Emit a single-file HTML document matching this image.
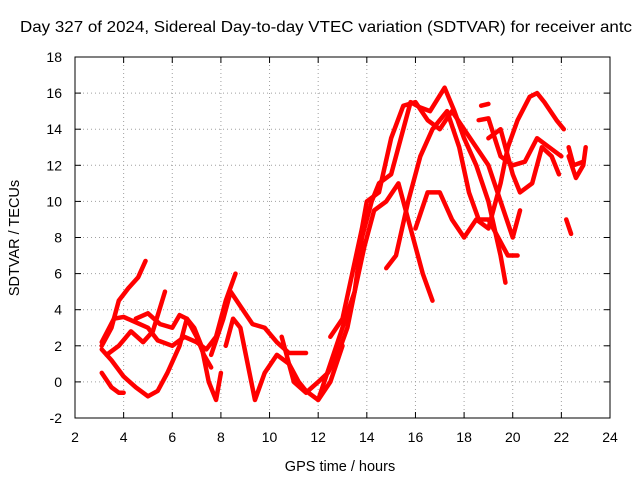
<!DOCTYPE html>
<html><head><meta charset="utf-8"><style>
body{margin:0;background:#fff}
svg{display:block;font-family:"Liberation Sans",sans-serif}
</style></head><body>
<svg width="640" height="480" viewBox="0 0 640 480">
<rect width="640" height="480" fill="#fff"/>
<text x="20" y="32" font-size="16" textLength="612" lengthAdjust="spacingAndGlyphs">Day 327 of 2024, Sidereal Day-to-day VTEC variation (SDTVAR) for receiver antc</text>
<text transform="translate(19,238) rotate(-90)" text-anchor="middle" font-size="14.5">SDTVAR / TECUs</text>
<text x="340" y="471" text-anchor="middle" font-size="14.5">GPS time / hours</text>
<g id="grid"></g>
<g id="ticks"></g>
<g id="series"></g>
<rect x="75" y="57" width="535" height="361" fill="none" stroke="#000" stroke-width="1"/>
</svg>
<script>
const xTicks=[2,4,6,8,10,12,14,16,18,20,22,24];
const yTicks=[-2,0,2,4,6,8,10,12,14,16,18];
const t1=[[3.1,0.5],[3.5,-0.3],[3.8,-0.6],[4.0,-0.6]];
const t2=[[3.1,2],[3.5,3],[3.8,4.5],[4.2,5.2],[4.6,5.8],[4.9,6.7]];
const t3=[[3.1,2.2],[3.6,3.5],[4,3.6],[4.5,3.3],[5,3],[5.4,2.3],[6,2],[6.5,2.5],[7,2.2],[7.4,1.8],[7.8,2.5],[8.2,4.5],[8.6,6]];
const t4=[[3.1,1.8],[3.5,1.2],[4,0.3],[4.5,-0.3],[5,-0.8],[5.4,-0.5],[5.8,0.5],[6.3,2],[6.6,3.5],[6.9,3],[7.2,2],[7.5,0],[7.8,-1],[8,0.5]];
const t5=[[3.3,1.5],[3.8,2],[4.3,2.8],[4.8,2.2],[5.2,2.8],[5.7,5]];
const t6=[[4.5,3.5],[5,3.8],[5.5,3.2],[6,3],[6.3,3.7],[6.6,3.5],[7,2.5],[7.3,1.5],[7.6,0.8]];
const t7=[[7.6,1.5],[8.1,3.5],[8.4,5],[8.8,4.2],[9.3,3.2],[9.8,3],[10.3,2.2],[10.8,1.6],[11.5,1.6]];
const t8=[[8.2,2],[8.5,3.5],[8.8,3],[9.4,-1],[9.8,0.5],[10.3,1.5],[10.8,1],[11.2,0],[11.5,-0.5],[12,-1],[12.5,0],[13,2]];
const t9=[[10.5,2.5],[11,0],[11.5,-0.6],[12,0],[12.4,0.5],[12.8,1.5],[13.2,3],[13.5,5],[13.8,8],[14.2,10],[14.5,11],[15,11.5],[15.4,13.5],[15.8,15.5],[16.2,15.2],[16.6,15],[17.2,16.3],[17.6,15],[18,13.5],[18.5,12],[19,10],[19.5,7],[19.7,5.5]];
const t10=[[12,-1],[12.5,1],[13,3],[13.5,5],[13.9,7.5],[14.3,9.5],[14.8,10],[15.3,11],[15.7,9],[16,7.5],[16.3,6],[16.7,4.5]];
const t11=[[12.5,2.5],[13,3.5],[13.4,6],[13.8,8.5],[14,10],[14.5,10.5],[15,13.5],[15.5,15.3],[16,15.5],[16.5,14.5],[17,14],[17.5,15],[18,14],[18.5,13],[19,12],[19.5,10],[20,8],[20.3,9.5]];
const t12=[[14.8,6.3],[15.2,7],[15.7,10],[16.2,12.5],[16.7,14],[17.3,15],[17.8,13],[18.2,10.5],[18.6,9],[19,9],[19.4,8],[19.8,7],[20.2,7]];
const t13=[[16,8.5],[16.5,10.5],[17,10.5],[17.5,9],[18,8],[18.5,9],[19,8.5],[19.5,11],[19.8,13],[20.2,14.5],[20.7,15.8],[21,16],[21.3,15.5],[21.8,14.5],[22.1,14]];
const t14=[[18.6,14.5],[19,14.6],[19.5,12.5],[20,12],[20.5,12.2],[21,13.5],[21.5,13],[22,12.5]];
const t15=[[18.7,15.3],[19,15.4]];
const t16=[[19,13.5],[19.5,14],[20,11.5],[20.3,10.5],[20.8,11],[21.2,13],[21.6,12.5],[21.9,11.5]];
const t17=[[22.2,9],[22.4,8.2]];
const t18=[[22.3,12.5],[22.6,11.3],[22.9,12],[23,13]];
const t19=[[22.3,13],[22.5,12],[22.9,12.2]];
const tracks=[t1,t2,t3,t4,t5,t6,t7,t8,t9,t10,t11,t12,t13,t14,t15,t16,t17,t18,t19];
const NS='http://www.w3.org/2000/svg';
const X=v=>75+(v-2)*(535/22);
const Y=v=>418-(v+2)*(361/20);
const grid=document.getElementById('grid'),ticks=document.getElementById('ticks'),series=document.getElementById('series');
function mk(tag,attrs,parent){const e=document.createElementNS(NS,tag);for(const k in attrs)e.setAttribute(k,attrs[k]);parent.appendChild(e);return e;}
xTicks.forEach(v=>{
 if(v>2&&v<24){const g=mk('line',{x1:X(v),x2:X(v),y1:57,y2:418,stroke:'#a0a0a0','stroke-dasharray':'1,3'},grid);
 
 }
 mk('line',{x1:X(v),x2:X(v),y1:418,y2:412,stroke:'#000'},ticks);
 mk('line',{x1:X(v),x2:X(v),y1:57,y2:63,stroke:'#000'},ticks);
 const t=mk('text',{x:X(v),y:442,'text-anchor':'middle','font-size':'14'},ticks);t.textContent=v;
 
 
});
yTicks.forEach(v=>{
 if(v>-2&&v<18){const g=mk('line',{x1:75,x2:610,y1:Y(v),y2:Y(v),stroke:'#a0a0a0','stroke-dasharray':'1,3'},grid);
 
 }
 mk('line',{x1:75,x2:81,y1:Y(v),y2:Y(v),stroke:'#000'},ticks);
 mk('line',{x1:604,x2:610,y1:Y(v),y2:Y(v),stroke:'#000'},ticks);
 const t=mk('text',{x:62,y:Y(v)+5,'text-anchor':'end','font-size':'14'},ticks);t.textContent=v;
 
 
});
tracks.forEach(tr=>{
 const p=mk('polyline',{points:tr.map(d=>X(d[0])+','+Y(d[1])).join(' '),fill:'none',stroke:'#ff0000','stroke-width':'4.5','stroke-linejoin':'round','stroke-linecap':'round'},series);
 
 
});
</script>
</body></html>
